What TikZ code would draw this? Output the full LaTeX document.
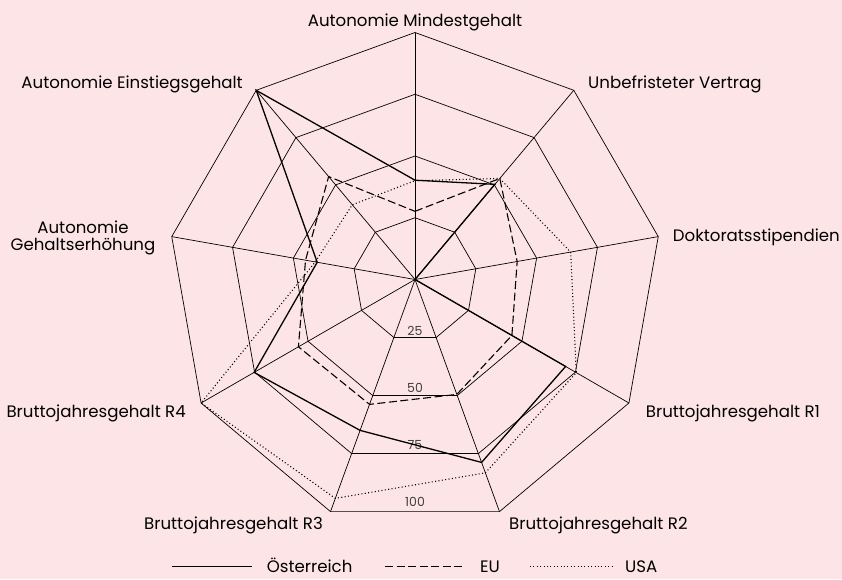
\documentclass[tikz,border=0pt]{standalone}
\usepackage{fontspec}
\setmainfont{Poppins}
\definecolor{bg}{RGB}{253,228,230}
\begin{document}
\begin{tikzpicture}[x=1pt,y=1pt,
  gridline/.style={line width=0.7pt, black},
  autline/.style={line width=1.3pt, line join=miter},
  euline/.style={line width=1.1pt, dash pattern=on 8pt off 3.5pt},
  usaline/.style={line width=1.1pt, dash pattern=on 1pt off 2.4pt},
  lab/.style={font=\fontsize{16.6}{19}\selectfont, inner sep=0pt},
  scl/.style={font=\fontsize{12.5}{14}\selectfont, text=black!75, inner sep=0pt, anchor=base}]
\fill[bg] (-415,-299.5) rectangle (427,279.5);
\useasboundingbox (-415,-299.5) rectangle (427,279.5);
\def\R{247}
% grid rings
\foreach \f in {0.25,0.5,0.75,1}{
  \draw[gridline] (90:{\f*\R}) \foreach \k in {1,...,8}{ -- ({90-40*\k}:{\f*\R})} -- cycle;
}
% spokes
\coordinate (c) at (0,0);
\foreach \k in {0,...,8}{
  \coordinate (v\k) at ({90-40*\k}:\R);
  \draw[gridline] (c) -- (v\k);
}
% scale labels
\node[scl] (s25) at (0,-55.5) {25};
\node[scl] (s50) at (0,-112.8) {50};
\node[scl] (s75) at (0,-169.8) {75};
\node[scl] (s100) at (0,-226.5) {100};
% data
\foreach \v [count=\i from 0] in {40,53.4,64,75.4,83.3,94.3,100,41,39.5}
  \coordinate (U\i) at ({90-40*\i}:{\v*2.47});
\foreach \v [count=\i from 0] in {27.6,53.4,42,45.3,49.5,53.8,54.5,45,54.4}
  \coordinate (E\i) at ({90-40*\i}:{\v*2.47});
\foreach \v [count=\i from 0] in {40.2,50.3,0,70.4,78.8,65,75.2,40.2,100}
  \coordinate (A\i) at ({90-40*\i}:{\v*2.47});
\draw[usaline] (U0) -- (U1) -- (U2) -- (U3) -- (U4) -- (U5) -- (U6) -- (U7) -- (U8) -- cycle;
\draw[euline] (E0) -- (E1) -- (E2) -- (E3) -- (E4) -- (E5) -- (E6) -- (E7) -- (E8) -- cycle;
\draw[autline] (A0) -- (A1) -- (A2) -- (A3) -- (A4) -- (A5) -- (A6) -- (A7) -- (A8) -- cycle;
% axis labels
\node[lab, anchor=base] (t0) at (0,253.5) {Autonomie Mindestgehalt};
\node[lab, anchor=base west] (t1) at (173,191.5) {Unbefristeter Vertrag};
\node[lab, anchor=base east] (t2) at (425,38.5) {Doktoratsstipendien};
\node[lab, anchor=base west] (t3) at (230.7,-137.8) {Bruttojahresgehalt R1};
\node[lab, anchor=base west] (t4) at (94,-250) {Bruttojahresgehalt R2};
\node[lab, anchor=base east] (t5) at (-92,-250) {Bruttojahresgehalt R3};
\node[lab, anchor=base east] (t6) at (-229,-137.8) {Bruttojahresgehalt R4};
\node[lab, anchor=base] (t7a) at (-332,46.2) {Autonomie};
\node[lab, anchor=base] (t7b) at (-332,29.5) {Gehaltserhöhung};
\node[lab, anchor=base east] (t8) at (-172,191.5) {Autonomie Einstiegsgehalt};
% legend
\coordinate (l1a) at (-243.3,-287); \coordinate (l1b) at (-163.3,-287);
\coordinate (l2a) at (-30,-287); \coordinate (l2b) at (50,-287);
\coordinate (l3a) at (115,-287); \coordinate (l3b) at (196.7,-287);
\draw[autline, line width=1.1pt] (l1a) -- (l1b);
\draw[euline] (l2a) -- (l2b);
\draw[usaline] (l3a) -- (l3b);
\node[lab, anchor=base west] (k1) at (-148.3,-292.5) {Österreich};
\node[lab, anchor=base west] (k2) at (65,-292.5) {EU};
\node[lab, anchor=base west] (k3) at (210,-292.5) {USA};
\end{tikzpicture}
\end{document}
